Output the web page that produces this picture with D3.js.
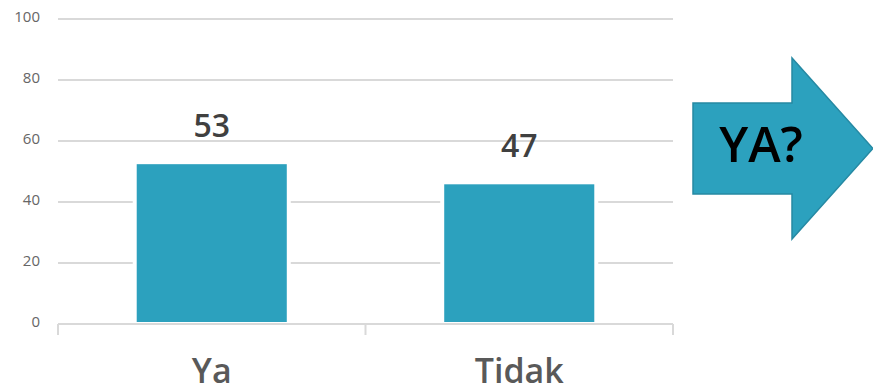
<!DOCTYPE html>
<html><head><meta charset="utf-8">
<script src="https://cdn.jsdelivr.net/npm/d3@7"></script>
<style>body{margin:0;background:#fff}svg{display:block}</style>
</head><body>
<script>
const categories = ["Ya", "Tidak"];
const barValues = [52.4, 45.8];
const barLabels = ["53", "47"];
const yTicks = [0, 20, 40, 60, 80, 100];
const calloutText = "YA?";

const W = 873, H = 386;
const svg = d3.select("body").append("svg").attr("width", W).attr("height", H);
const font = "'Open Sans', sans-serif";

const x = d3.scaleBand().domain(categories).range([58, 673]).paddingInner(0.512).paddingOuter(0.256);
const y = d3.scaleLinear().domain([0, 100]).range([324, 19]);

// gridlines
svg.append("g").selectAll("line").data(yTicks.filter(d => d > 0)).join("line")
  .attr("x1", 58).attr("x2", 673)
  .attr("y1", d => y(d)).attr("y2", d => y(d))
  .attr("stroke", "#d9d9d9").attr("stroke-width", 2);

// white halo behind bars
svg.append("g").selectAll("rect").data(categories).join("rect")
  .attr("x", d => x(d) - 4).attr("width", x.bandwidth() + 8)
  .attr("y", (d, i) => y(barValues[i]) - 4)
  .attr("height", (d, i) => y(0) - y(barValues[i]) + 4)
  .attr("fill", "#fff");

// y tick labels
svg.append("g").selectAll("text").data(yTicks).join("text")
  .attr("x", 40).attr("y", d => y(d) - 2).attr("dy", "0.35em")
  .attr("text-anchor", "end").attr("font-family", font).attr("font-size", 15)
  .attr("fill", "#666").text(d => d);

// x axis line + ticks
const xa = svg.append("g");
xa.append("line").attr("x1", 58).attr("x2", 673).attr("y1", y(0)).attr("y2", y(0))
  .attr("stroke", "#d9d9d9").attr("stroke-width", 2);
const tickXs = [x.range()[0], ...categories.slice(1).map(c => x(c) - x.step() * x.paddingInner() / 2), x.range()[1]];
xa.selectAll("line.t").data(tickXs).join("line").attr("class", "t")
  .attr("x1", d => d).attr("x2", d => d).attr("y1", y(0)).attr("y2", y(0) + 11)
  .attr("stroke", "#d9d9d9").attr("stroke-width", 2);

// bars
svg.append("g").selectAll("rect").data(categories).join("rect")
  .attr("x", d => x(d)).attr("width", x.bandwidth())
  .attr("y", (d, i) => y(barValues[i]))
  .attr("height", (d, i) => y(0) - y(barValues[i]) - 2)
  .attr("fill", "#2ca1be");

// value labels
svg.append("g").selectAll("text").data(categories).join("text")
  .attr("x", d => x(d) + x.bandwidth() / 2)
  .attr("y", (d, i) => y(barValues[i]) - 27)
  .attr("text-anchor", "middle").attr("font-family", font).attr("font-size", 32)
  .attr("font-weight", 600).attr("fill", "#404040")
  .text((d, i) => barLabels[i]);

// category labels
svg.append("g").selectAll("text").data(categories).join("text")
  .attr("x", d => x(d) + x.bandwidth() / 2).attr("y", 383)
  .attr("text-anchor", "middle").attr("font-family", font).attr("font-size", 34)
  .attr("font-weight", 600).attr("fill", "#595959").text(d => d);

// callout arrow
const arrowPts = [[693,103],[792,103],[792,58],[873,148.5],[792,239],[792,194],[693,194]];
svg.append("path").attr("d", d3.line()(arrowPts) + "Z")
  .attr("fill", "#2ca1be").attr("stroke", "#2689a3").attr("stroke-width", 1.5);
svg.append("text").attr("x", 761).attr("y", 162).attr("text-anchor", "middle")
  .attr("font-family", font).attr("font-size", 49).attr("font-weight", 600)
  .attr("fill", "#000").text(calloutText);
</script>
</body></html>
